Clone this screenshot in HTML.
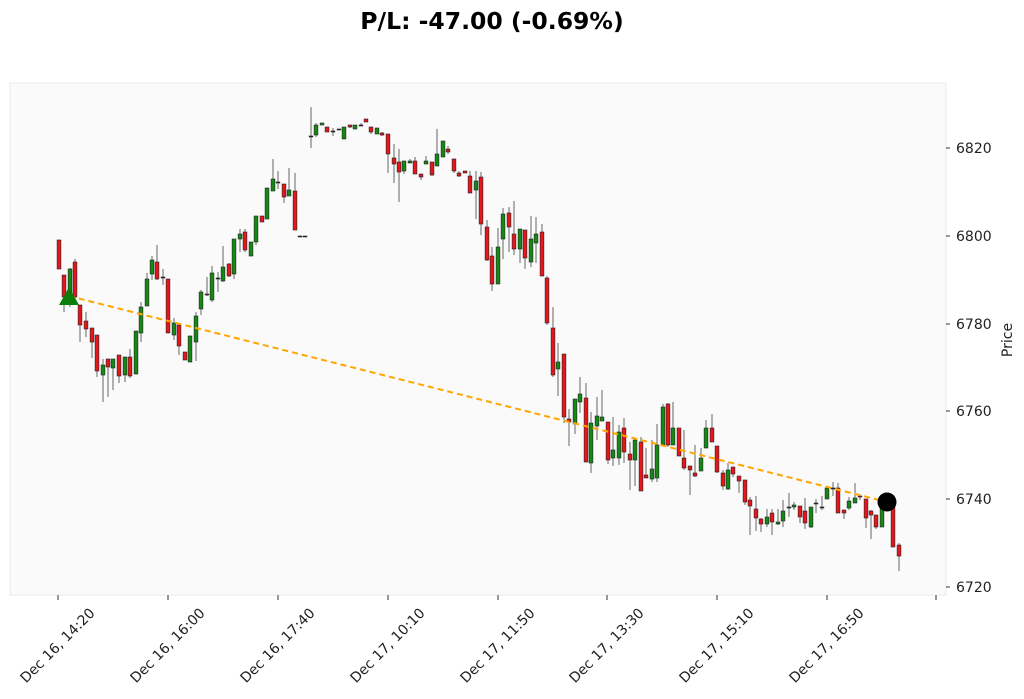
<!DOCTYPE html>
<html><head><meta charset="utf-8"><style>
html,body{margin:0;padding:0;background:#fff;}
svg{display:block;font-family:"DejaVu Sans","Liberation Sans",sans-serif;}
</style></head><body>
<svg id="s" width="1024" height="699" viewBox="0 0 1024 699" xmlns="http://www.w3.org/2000/svg">
<text x="492" y="29" text-anchor="middle" font-size="23.5" font-weight="bold">P/L: -47.00 (-0.69%)</text>
<rect x="10" y="83" width="936" height="512" fill="#fafafa" stroke="#ebebeb" stroke-width="1"/>
<g id="yt" font-size="14" fill="#222"></g>
<g id="xt" font-size="14" fill="#222"></g>
<text transform="translate(1012,340) rotate(-90)" text-anchor="middle" font-size="14" fill="#222">Price</text>
<g id="c"></g>
<line x1="69" y1="296" x2="887" y2="502" stroke="#ffa500" stroke-width="2" stroke-dasharray="6,4"/>
<polygon points="59,305 79,305 69,287" fill="#0a7d0a"/>
<circle cx="887" cy="502" r="9.5" fill="#000"/>
</svg>
<script>
var ns="http://www.w3.org/2000/svg";
function el(t,a,p){var e=document.createElementNS(ns,t);for(var k in a)e.setAttribute(k,a[k]);(p||document.getElementById('c')).appendChild(e);return e;}
var yt=document.getElementById('yt');
[[6820,148],[6800,236],[6780,324],[6760,411],[6740,499],[6720,587]].forEach(function(v){
 el('line',{x1:946,y1:v[1],x2:950,y2:v[1],stroke:'#333','stroke-width':1},yt);
 var t=el('text',{x:956,y:v[1]+5},yt);t.textContent=v[0];});
var xt=document.getElementById('xt');
var labs=["Dec 16, 14:20","Dec 16, 16:00","Dec 16, 17:40","Dec 17, 10:10","Dec 17, 11:50","Dec 17, 13:30","Dec 17, 15:10","Dec 17, 16:50",""];
var xs=[58,168,278,388,498,607,717,827,936];
xs.forEach(function(x,i){el('line',{x1:x,y1:595,x2:x,y2:600,stroke:'#333','stroke-width':1},xt);
 if(labs[i]){var t=el('text',{transform:'translate('+x+',646) rotate(-45)','text-anchor':'middle','dominant-baseline':'central'},xt);t.textContent=labs[i];}});
var D=[
[59,240,269,240,269,'r'],[64,275,297,275,312,'r'],[70,269,297,268,307,'g'],[75,262,297,259,303,'r'],[80,305,325,305,342,'r'],
[86,321,329,312,337,'r'],[92,328,342,328,358,'r'],[97,335,371,335,377,'r'],[103,365,375,359,402,'g'],[108,359,367,359,397,'r'],
[113,359,368,359,390,'g'],[119,355,376,355,383,'r'],[125,357,375,357,382,'g'],[130,357,376,349,378,'r'],[136,331,374,331,374,'g'],
[141,307,333,302,342,'g'],[147,279,306,273,306,'g'],[152,260,274,256,280,'g'],[157,262,279,245,280,'r'],[163,277,278,269,285,'d'],
[168,279,333,279,333,'r'],[174,323,335,318,340,'g'],[179,325,346,325,355,'r'],[185,352,360,352,360,'r'],[190,336,362,336,362,'g'],
[196,316,342,312,361,'g'],[201,292,309,290,315,'g'],[207,294,295,277,296,'r'],[212,273,300,266,302,'g'],[218,278,279,272,292,'d'],
[223,267,281,246,282,'g'],[229,264,276,263,277,'r'],[234,239,274,239,279,'g'],[240,234,239,229,252,'g'],[245,232,250,229,252,'r'],
[251,242,256,242,256,'g'],[256,216,242,216,245,'g'],[262,216,222,216,222,'r'],[267,188,219,188,219,'g'],[273,179,191,159,191,'g'],
[278,182,183,171,189,'d'],[284,184,197,184,203,'r'],[289,190,196,168,196,'g'],[295,191,230,173,230,'r'],[300,236,237,236,237,'d'],[305,236,237,236,237,'d'],
[311,136,137,107,148,'d'],[316,125,135,123,137,'g'],[322,123,125,123,125,'g'],[327,127,132,127,132,'r'],[333,131,132,128,136,'d'],
[339,129,130,129,130,'d'],[344,127,139,127,139,'g'],[350,125,127,125,128,'r'],[355,125,129,125,129,'g'],[361,125,126,123,126,'d'],
[366,119,122,119,122,'r'],[371,127,132,127,134,'r'],[377,128,134,128,134,'g'],[382,133,135,132,136,'r'],[388,134,154,134,173,'r'],
[394,158,164,144,183,'r'],[399,162,172,149,202,'r'],[404,161,171,161,174,'g'],[410,161,163,159,163,'g'],[415,161,174,157,174,'r'],
[421,174,177,174,180,'r'],[426,161,164,156,164,'g'],[432,162,175,162,176,'r'],[437,154,166,129,166,'g'],[443,141,157,141,157,'g'],
[448,149,152,146,154,'r'],[454,159,171,159,173,'r'],[459,173,176,171,177,'r'],[465,171,173,171,173,'r'],[470,176,193,171,193,'r'],
[476,181,190,171,219,'g'],[481,177,224,172,235,'r'],[487,227,260,220,261,'r'],[492,256,284,247,291,'r'],[498,247,284,228,284,'g'],
[503,214,239,208,259,'g'],[509,213,227,207,252,'r'],[514,234,249,201,255,'r'],[520,229,249,229,263,'g'],[525,230,258,230,269,'r'],
[531,239,262,216,267,'g'],[536,234,243,217,263,'g'],[542,232,276,224,276,'r'],[547,278,323,276,325,'r'],[553,328,375,307,377,'r'],
[558,362,369,343,396,'g'],[564,354,417,354,423,'r'],[569,419,422,409,446,'r'],[575,399,424,399,434,'g'],[580,394,402,377,413,'g'],
[586,398,462,383,462,'r'],[591,423,463,412,473,'g'],[597,416,426,397,440,'g'],[602,417,421,390,421,'g'],[608,422,460,422,464,'r'],
[613,450,458,417,466,'g'],[619,432,458,425,465,'g'],[624,428,452,418,463,'r'],[630,454,460,442,490,'r'],[635,440,460,440,486,'g'],
[641,442,491,437,491,'r'],[646,475,478,448,478,'r'],[652,469,479,440,482,'g'],[657,445,478,424,482,'g'],[663,407,445,404,445,'g'],
[668,404,445,403,447,'r'],[673,428,445,402,445,'g'],[679,428,456,428,456,'r'],[684,458,468,430,470,'r'],[690,466,470,466,495,'r'],
[695,473,476,445,477,'r'],[701,458,471,448,471,'g'],[706,428,448,420,448,'g'],[712,428,442,414,442,'r'],[717,446,472,446,473,'r'],
[723,473,486,470,490,'r'],[728,470,489,463,490,'g'],[733,467,474,467,477,'r'],[739,476,481,476,493,'r'],[745,480,502,480,505,'r'],
[750,500,506,497,535,'r'],[756,509,518,496,531,'r'],[761,519,524,518,532,'r'],[767,517,524,509,527,'g'],[772,513,522,509,535,'r'],
[778,522,524,509,525,'g'],[783,511,521,500,527,'g'],[789,507,508,493,517,'d'],[794,505,507,502,510,'g'],[800,506,517,506,523,'r'],
[805,511,523,498,529,'r'],[811,507,527,507,528,'g'],[816,503,504,499,513,'d'],[822,507,508,496,510,'d'],[827,488,499,487,499,'g'],
[833,488,489,482,496,'d'],[838,488,513,483,513,'r'],[844,510,513,510,519,'r'],[849,501,508,497,510,'g'],[855,498,503,483,503,'g'],
[860,496,497,495,500,'r'],[866,499,518,499,528,'r'],[871,511,515,510,539,'r'],[876,515,527,515,529,'r'],[882,508,527,505,527,'g'],
[893,505,547,502,547,'r'],[899,545,556,543,571,'r']];
D.forEach(function(d){
 el('line',{x1:d[0],y1:d[3],x2:d[0],y2:d[4],stroke:'#666','stroke-width':1});
 var f=d[5]=='g'?'#148a14':(d[5]=='r'?'#e8151b':'#222');
 var h=Math.max(1,d[2]-d[1]);
 el('rect',{x:d[0]-1.9,y:d[1],width:3.8,height:h,fill:f,stroke:'#222','stroke-width':0.6});
});
</script>
</body></html>
